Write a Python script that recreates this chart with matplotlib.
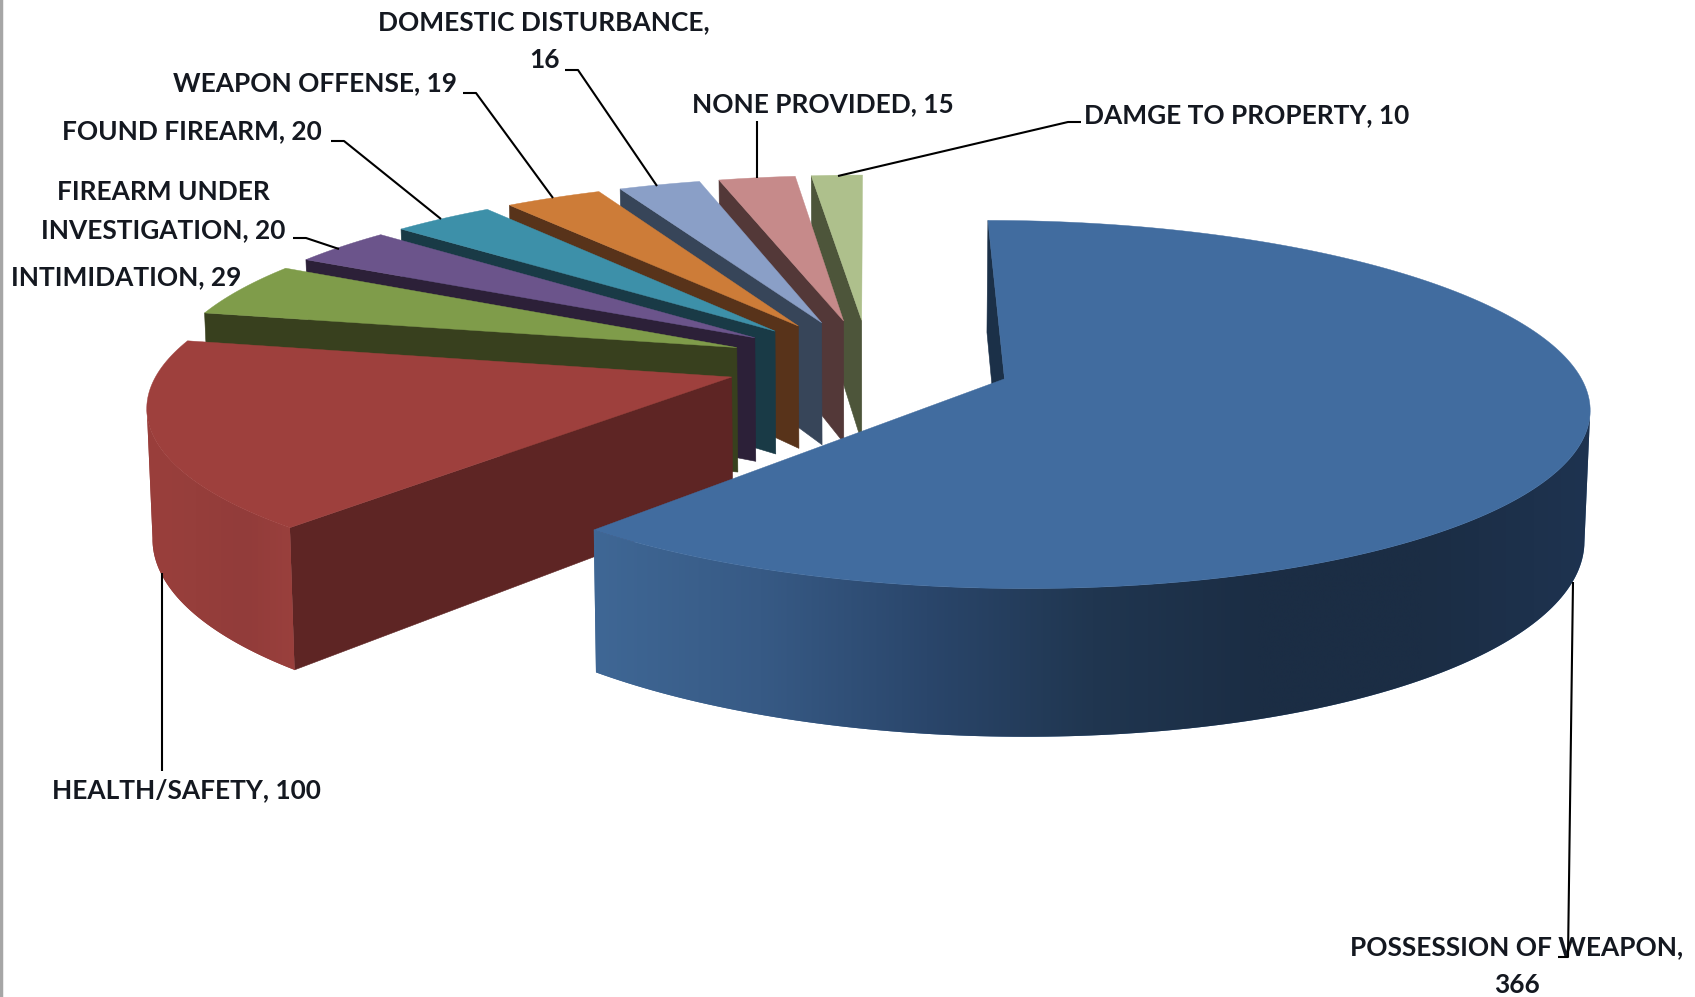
#!/usr/bin/env python
#
import numpy as np
import matplotlib
matplotlib.use("Agg")
import matplotlib.pyplot as plt
from matplotlib.colors import to_rgb
from matplotlib.patches import Polygon

categories = ["POSSESSION OF WEAPON", "HEALTH/SAFETY", "INTIMIDATION",
              "FIREARM UNDER INVESTIGATION", "FOUND FIREARM", "WEAPON OFFENSE",
              "DOMESTIC DISTURBANCE", "NONE PROVIDED", "DAMGE TO PROPERTY"]
values = [366, 100, 29, 20, 20, 19, 16, 15, 10]

top_colors = ["#416c9f", "#9e403d", "#7f9c4a", "#6b548b", "#3d90a9",
              "#cd7c38", "#8a9fc7", "#c68a8a", "#aec08c"]
inner_colors = ["#1b3048", "#5e2524", "#38401e", "#2c2038", "#193a46",
                "#58331a", "#374559", "#533838", "#4d553a"]

# wall shading along the rim, from left to right of the visible part
blue_wall = ["#3f6795", "#375a85", "#2a466b", "#203650", "#1b2d44", "#1b2d44", "#1e3350"]
red_wall = ["#9a3f3c", "#963e3b", "#923c3a", "#9a403d"]

# label text, x, y, leader points (all in the pixel frame of the picture)
labels = [
  ("DOMESTIC DISTURBANCE,\n16", 544, 41, [(565, 70), (578, 70), (657, 186)]),
  ("WEAPON OFFENSE, 19", 315, 83, [(463, 93), (476, 93), (553, 198)]),
  ("FOUND FIREARM, 20", 192, 131, [(331, 141), (344, 141), (441, 219)]),
  ("FIREARM UNDER\nINVESTIGATION, 20", 163, 211, [(293, 238), (306, 238), (339, 249)]),
  ("INTIMIDATION, 29", 126, 277, None),
  ("NONE PROVIDED, 15", 823, 104, [(757, 121), (757, 178)]),
  ("DAMGE TO PROPERTY, 10", 1247, 115, [(1081, 122), (1068, 122), (838, 176)]),
  ("HEALTH/SAFETY, 100", 186, 790, [(162, 573), (162, 771)]),
  ("POSSESSION OF WEAPON,\n366", 1517, 966, [(1573, 582), (1568, 957), (1558, 957)]),
]

# # projection of the exploded pie # #
cx, cy = 869, 363
radius = 570
squash = 0.309
persp = 0.1376
depth = 126
bottom_shrink = 0.992
explode = 0.251


def project(x, y):
  s = 1.0 / (1.0 + persp * y)
  return cx + radius * x * s, cy - radius * squash * y * s, s


def bottom(x, y):
  sx, sy, s = project(x, y)
  return cx + (sx - cx) * bottom_shrink, sy + depth * s


def ramp(stops, n):
  rgb = np.array([to_rgb(c) for c in stops])
  pos = np.linspace(0, 1, len(stops))
  t = np.linspace(0, 1, n)
  return np.stack([np.interp(t, pos, rgb[:, i]) for i in range(3)], axis=-1)[None, :, :]


def draw_slice(ax, start, end, top, inner, wall, order):
  mid = (start + end) / 2
  ox, oy = explode * np.sin(mid), explode * np.cos(mid)
  theta = np.linspace(start, end, max(int((end - start) * 60), 4))
  xs, ys = ox + np.sin(theta), oy + np.cos(theta)

  # wall along the start edge
  a = project(ox, oy)[:2]
  b = project(xs[0], ys[0])[:2]
  ax.add_patch(Polygon([a, b, bottom(xs[0], ys[0]), bottom(ox, oy)],
                       facecolor=inner, edgecolor=inner, lw=0.4, zorder=order))

  # outer wall between the right and left silhouette points, shaded by screen x
  if wall:
    scr = np.array([project(x, y)[0] for x, y in zip(xs, ys)])
    first, last = scr.argmax(), scr.argmin()
    upper = [project(xs[i], ys[i])[:2] for i in range(first, last + 1)]
    lower = [bottom(xs[i], ys[i]) for i in range(first, last + 1)]
    outline = upper + lower[::-1]
    left = min(p[0] for p in outline)
    right = max(p[0] for p in outline)
    low = min(p[1] for p in outline)
    high = max(p[1] for p in outline)
    face = Polygon(outline, facecolor=wall[0], edgecolor="none", zorder=order)
    ax.add_patch(face)
    img = ax.imshow(ramp(wall, 256), extent=(left, right, high, low), aspect="auto",
                    interpolation="bilinear", zorder=order + 0.1)
    img.set_clip_path(face)

  # top face
  rim = [project(x, y)[:2] for x, y in zip(xs, ys)]
  ax.add_patch(Polygon([a] + rim, facecolor=top, edgecolor=top, lw=0.3, zorder=order + 0.5))


def main():
  fig = plt.figure(figsize=(16.95, 9.97), dpi=100, facecolor="white")
  ax = fig.add_axes([0, 0, 1, 1])

  # # slices, clockwise from the top, painted back to front # #
  angles = np.concatenate([[0], np.cumsum(values)]) / sum(values) * 2 * np.pi
  walls = [blue_wall, red_wall] + [None] * (len(values) - 2)
  for i in reversed(range(len(values))):
    draw_slice(ax, angles[i], angles[i + 1], top_colors[i], inner_colors[i],
               walls[i], len(values) - i + 1)

  # # labels # #
  for text, x, y, leader in labels:
    ax.text(x, y, text, ha="center", va="center", family="Lato", weight="bold",
            fontsize=18.9, color="#141820", linespacing=1.7, zorder=30)
    if leader:
      ax.plot(*zip(*leader), color="black", lw=1.5, zorder=31, solid_capstyle="butt")

  # # grey frame on the left side # #
  ax.axvline(1, color="#a6a6a6", lw=2.5, zorder=32)

  ax.set_xlim(0, 1695)
  ax.set_ylim(997, 0)
  ax.axis("off")
  fig.savefig("out.png", dpi=100)


if __name__ == "__main__":
  main()
